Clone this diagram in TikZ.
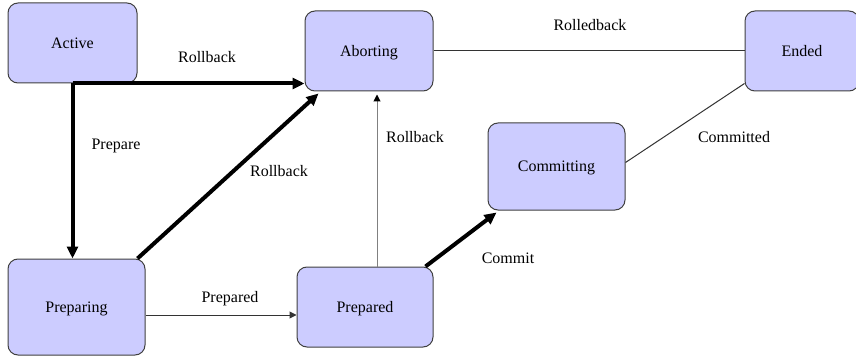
\documentclass[tikz,border=0pt]{standalone}
\usepackage{fontspec}
\setmainfont{Liberation Serif}
\usepackage{tikz}
\usetikzlibrary{arrows.meta}
\tikzset{
    statenode/.style={
        rectangle,
        rounded corners=10pt,
        draw=black!75, % 边框颜色
        fill=blue!20, % 填充颜色
        line width=1pt,
        inner sep=0,
        text height=10.5pt,
        text depth=0pt,
        font=\fontsize{16}{19}\selectfont
    },
    edgelabel/.style={
        anchor=base,
        inner sep=0,
        font=\fontsize{16}{19}\selectfont
    },
    thickarrow/.style={
        line width=4pt,
        -{Triangle[length=12pt,width=11pt]}
    },
    thinarrow/.style={
        line width=1pt,
        draw=black!80,
        -{Triangle[length=7pt,width=7pt]}
    },
    plainline/.style={
        line width=1pt,
        draw=black!80
    }
}
\begin{document}
\begin{tikzpicture}[x=1pt,y=-1pt]
    \useasboundingbox (0,0) rectangle (856,358);
    % 状态
    \node[statenode, minimum width=129pt, minimum height=80pt] (active) at (72.5,43) {Active};
    \node[statenode, minimum width=128pt, minimum height=80pt] (aborting) at (369,51) {Aborting};
    \node[statenode, minimum width=114pt, minimum height=80pt] (ended) at (802,51) {Ended};
    \node[statenode, minimum width=137pt, minimum height=87pt] (committing) at (556.5,166.5) {Committing};
    \node[statenode, minimum width=137pt, minimum height=96pt] (preparing) at (76.5,307) {Preparing};
    \node[statenode, minimum width=136pt, minimum height=80pt] (prepared) at (365,307) {Prepared};

    % 粗箭头
    \draw[thickarrow] (active.south) -- (active.south |- preparing.north);
    \draw[thickarrow] (active.south) -- (active.south -| aborting.west);
    \draw[thickarrow] ([xshift=-8pt]preparing.north east) -- ([xshift=14pt,yshift=-2pt]aborting.south west);
    \draw[thickarrow] ([xshift=-8pt]prepared.north east) -- ([xshift=9pt,yshift=-2pt]committing.south west);

    % 细线
    \draw[thinarrow, draw=gray, -{Triangle[length=7pt,width=7pt,color=black]}]
        ([xshift=12pt]prepared.north) -- ([xshift=12pt,yshift=-3pt]prepared.north |- aborting.south);
    \draw[thinarrow] ([yshift=-8pt]preparing.east) -- ([yshift=-8pt]preparing.east -| prepared.west);
    \draw[plainline] (aborting.east) -- (ended.west);
    \draw[plainline] ([yshift=4pt]committing.east) -- ([yshift=8pt]ended.south west);

    % 标签
    \node[edgelabel] (lrollbacka) at (207,63) {Rollback};
    \node[edgelabel] (lprepare) at (116,150) {Prepare};
    \node[edgelabel] (lrollbackb) at (279,177) {Rollback};
    \node[edgelabel] (lrollbackc) at (415,143) {Rollback};
    \node[edgelabel] (lrolledback) at (590,31) {Rolledback};
    \node[edgelabel] (lcommitted) at (734,143) {Committed};
    \node[edgelabel] (lcommit) at (508,263) {Commit};
    \node[edgelabel] (lprepared) at (230,302) {Prepared};
\end{tikzpicture}
\end{document}
